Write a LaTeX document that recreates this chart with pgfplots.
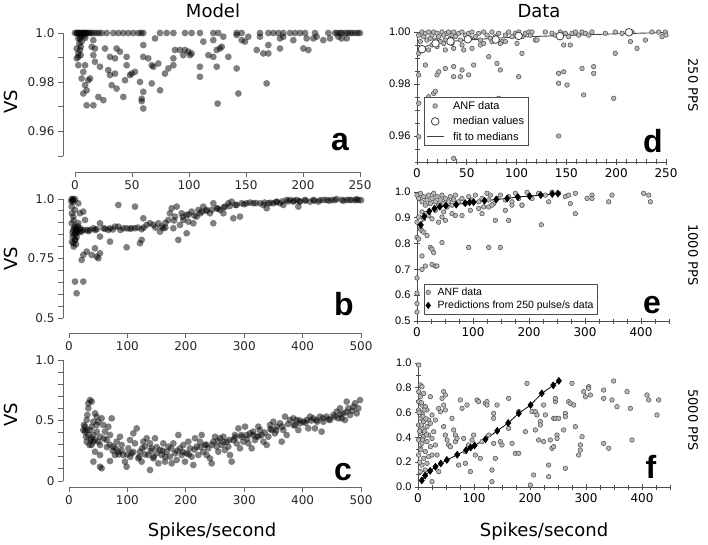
\documentclass[border=0pt]{standalone}
\usepackage{fontspec}
\setmainfont{DejaVu Sans}
\newfontfamily\arial{Liberation Sans}
\usepackage{pgfplots}
\pgfplotsset{compat=1.18}
\pgfplotsset{
 /pgf/number format/assume math mode=true,
 model/.style={scale only axis, clip=false, axis x line=bottom, axis y line=left,
  axis line style={-, draw=black!60, line width=0.9pt},
  tick style={draw=black!60, line width=0.9pt},
  tick align=outside, major tick length=5pt,
  tick label style={font=\fontsize{12}{14}\selectfont, text=black!85},
  anchor=south west},
 mdot/.style={only marks, mark=*, mark size=3.4pt, mark options={draw=black, draw opacity=0, fill=black, fill opacity=0.5}},
 dataax/.style={scale only axis, clip=false, axis x line=bottom, axis y line=left,
  axis line style={-, draw=black!70, line width=0.8pt},
  tick style={draw=black!70, line width=0.8pt},
  tick align=center, major tick length=6pt, minor tick length=5pt,
  yticklabel style={font=\arial\fontsize{11}{13}\selectfont},
  xticklabel style={font=\fontsize{12}{14}\selectfont},
  anchor=south west},
 anf/.style={only marks, mark=*, mark size=2.3pt, mark options={fill=black!28, draw=black!70, line width=0.5pt}},
}
\begin{document}
\begin{tikzpicture}[x=1pt,y=1pt]
\useasboundingbox (0,0) rectangle (708,544);
% ---------- panel a ----------
\begin{axis}[model, at={(75pt,388pt)}, width=285pt, height=123pt,
 xmin=0, xmax=250, ymin=0.95, ymax=1.0,
 axis x line shift=16pt, axis y line shift=12pt,
 xtick={0,50,100,150,200,250},
 ytick={0.95,0.96,0.97,0.98,0.99,1.0}, yticklabels={,0.96,,0.98,,1.0}]
\addplot[mdot] coordinates {(0,1)(1.5,1)(2.9,1)(4.4,1)(5.8,1)(7.3,1)(8.8,1)(10.2,1)(11.7,1)(13.2,1)(14.6,1)(16.5,1)(19,1)(21,1)(23.4,1)(27.8,1)(33.6,1)(38,1)(42.4,1)(46.8,1)(51.2,1)(55.6,1)(58,1)(59.9,1)(74.6,1)(80.4,1)(86.3,1)(96.5,1)(102.3,1)(109.6,1)(121.3,1)(125.7,1)(141.8,1)(146.2,1)(162.3,1)(169.6,1)(174,1)(178.4,1)(182.7,1)(188.6,1)(193,1)(197.4,1)(201.8,1)(210.5,1)(222.2,1)(228.1,1)(230,1)(232.5,1)(234,1)(236.8,1)(239,1)(241.2,1)(243,1)(245.6,1)(248,1)(250,1)
(2,1)(4,1)(6,1)(8,1)(10,1)(6,0.9993)(8,0.9988)(9,0.998)(5,0.9985)
(4.4,0.9978)(5.8,0.9965)(1.5,0.9937)(4.4,0.9931)(2.9,0.9903)(2.9,0.9869)(8.8,0.9869)(7.3,0.9842)(5.8,0.9815)(13.2,0.9815)(11.7,0.9808)(8.8,0.9788)(10.2,0.9767)(7.3,0.9754)(10.2,0.9706)(16.1,0.9706)(20.5,0.9740)(24.9,0.9727)(16.1,0.9971)(14.6,0.9944)(17.5,0.9937)(16.1,0.9910)(17.5,0.9883)(21.9,0.9863)(26.3,0.9937)(30.7,0.9903)(35.1,0.9897)(36.5,0.9937)(39.5,0.9924)(45.3,0.9903)(45.3,0.9869)(29.2,0.9849)(30.7,0.9829)(35.1,0.9835)(32.2,0.9788)(36.5,0.9774)(43.9,0.9808)(48.2,0.9829)(49.7,0.9835)(52.6,0.9842)(42.4,0.9740)(58.5,0.9733)(58.5,0.9723)(59.9,0.9693)(59.9,0.9761)(57.0,0.9801)(59.9,0.9951)(59.9,0.9903)(64.3,0.9897)(70.2,0.9978)(67.3,0.9869)(68.7,0.9863)(73.1,0.9876)(67.3,0.9795)(74.6,0.9767)(78.9,0.9835)(81.9,0.9856)(86.3,0.9869)(86.3,0.9897)(87.7,0.9931)(92.1,0.9931)(96.5,0.9931)(99.4,0.9924)(102.3,0.9917)(95.0,0.9910)(100.9,0.9910)(112.6,0.9965)(121.3,0.9971)(130.1,0.9985)(117.0,0.9910)(121.3,0.9903)(124.3,0.9931)(127.2,0.9937)(128.7,0.9944)(134.5,0.9903)(109.6,0.9863)(109.6,0.9822)(124.3,0.9863)(141.8,0.9856)(143.3,0.9754)(125.1,0.9713)(146.2,0.9971)(149.1,0.9965)(152.0,0.9985)(141.8,0.9992)(159.4,0.9931)(162.3,0.9985)(165.2,0.9917)(169.6,0.9951)(169.6,0.9917)(168.1,0.9795)(179.8,0.9978)(179.8,0.9937)(182.7,0.9985)(191.5,0.9971)(200.3,0.9937)(204.7,0.9931)(203.2,0.9978)(209.1,0.9978)(212.0,0.9985)(217.8,0.9971)(223.7,0.9978)(231.0,0.9985)(233.9,0.9978)(238.3,0.9978)
(2.9,0.9978)(3.8,0.9958)(5,0.9944)(2.9,0.9917)(5,0.9910)(1.5,0.9897)};
\end{axis}
% ---------- panel b ----------
\begin{axis}[model, at={(69pt,226pt)}, width=292pt, height=119pt,
 xmin=0, xmax=500, ymin=0.5, ymax=1.0,
 axis x line shift=15pt, axis y line shift=6pt,
 xtick={0,100,200,300,400,500},
 ytick={0.5,0.55,0.6,0.65,0.7,0.75,0.8,0.85,0.9,0.95,1.0}, yticklabels={0.5,,,,,0.75,,,,,1.0}]
\addplot[mdot] coordinates {(4.6,1.0)(7.4,1.0)(10.3,0.999)(7.4,0.989)(4.6,0.968)(10.3,0.954)(7.4,0.926)(4.6,0.898)(10.3,0.884)(7.4,0.870)(13.1,0.863)(6.3,0.842)(10.3,0.828)(7.4,0.814)(16.0,0.898)(18.8,0.877)(13.1,0.856)(21.7,0.863)(24.5,0.870)(24.5,0.947)(27.4,0.912)(16.0,0.982)(18.8,0.940)(24.5,0.765)(21.7,0.744)(30.3,0.779)(38.8,0.765)(44.5,0.793)(47.4,0.758)(50.2,0.751)(53.1,0.772)(10.3,0.653)(24.5,0.653)(13.1,0.604)
(4,0.99)(6,0.995)(5,0.94)(8,0.91)(9,0.88)(11,0.86)(12,0.875)(14,0.87)(6,0.86)(9,0.85)(11,0.83)(5,0.82)(13,0.84)(15,0.885)(17,0.86)(20,0.87)(8,0.8)(12,0.81)
(30.3,0.870)(36.0,0.870)(41.7,0.877)(47.4,0.873)(53.1,0.898)(58.8,0.877)(67.4,0.870)(70.2,0.877)(78.8,0.884)(84.5,0.884)(93.0,0.877)(98.7,0.877)(107.3,0.877)(113.0,0.877)(124.4,0.873)(133.0,0.891)(138.7,0.898)(144.4,0.891)(153.0,0.898)(158.7,0.884)(155.8,0.863)(161.5,0.877)
(33,0.865)(45,0.87)(62,0.875)(75,0.872)(88,0.87)(104,0.875)(118,0.88)(128,0.88)(148,0.88)(165,0.88)
(53.1,0.842)(70.2,0.821)(84.5,0.975)(98.7,0.797)(113.0,0.968)(121.6,0.814)(124.4,0.828)(127.3,0.919)
(170.1,0.912)(172.9,0.940)(175.8,0.961)(178.7,0.877)(181.5,0.926)(184.4,0.968)(187.2,0.828)(190.1,0.891)(192.9,0.940)(195.8,0.912)(201.5,0.933)(201.5,0.856)(204.3,0.905)(210.0,0.947)(212.9,0.898)(218.6,0.926)(221.5,0.954)(227.2,0.947)(230.0,0.968)(235.7,0.954)(241.4,0.940)(247.1,0.982)(247.1,0.898)(252.9,0.961)(258.6,0.954)(264.3,0.940)(267.1,0.968)(272.8,0.982)(278.5,0.989)(281.4,0.919)(287.1,0.975)(292.8,0.926)(295.7,0.982)(304.2,0.982)(309.9,0.985)(315.6,0.982)(327.1,0.982)(332.8,0.975)(338.5,0.961)(341.3,0.982)(349.9,0.982)(355.6,0.989)(361.3,0.982)(367.0,0.975)(372.7,0.996)(378.4,0.996)(384.1,0.989)(389.8,0.996)(392.7,0.968)(395.5,0.989)(404.1,0.996)(412.7,0.989)(418.4,0.996)(426.9,0.989)(435.5,0.996)(441.2,0.996)(449.8,0.996)(458.3,1.0)(466.9,0.996)(475.5,0.996)(484.0,0.996)(492.6,0.999)(495.4,0.996)
(165,0.9)(180,0.91)(195,0.925)(205,0.935)(215,0.93)(225,0.94)(235,0.95)(245,0.955)(255,0.96)(265,0.965)(275,0.97)(285,0.975)(300,0.978)(320,0.983)(335,0.985)(345,0.984)(355,0.987)(365,0.99)(375,0.99)(385,0.993)(395,0.991)(405,0.993)(420,0.993)(430,0.995)(445,0.993)(455,0.995)(470,0.993)(480,0.996)(490,0.995)(500,0.995)};
\end{axis}
% ---------- panel c ----------
\begin{axis}[model, at={(69pt,63pt)}, width=292pt, height=121pt,
 xmin=0, xmax=500, ymin=0, ymax=1.0,
 axis x line shift=6pt, axis y line shift=6pt,
 xtick={0,100,200,300,400,500},
 ytick={0,0.1,0.2,0.3,0.4,0.5,0.6,0.7,0.8,0.9,1.0}, yticklabels={0,,,,,0.5,,,,,1.0}]
\addplot[mdot] coordinates {(24.5,0.421)(25.7,0.463)(27.4,0.408)(29.1,0.366)(30.3,0.504)(31.4,0.545)(33.1,0.601)(33.1,0.642)(36.0,0.669)(38.8,0.656)(34.8,0.298)(37.1,0.339)(38.8,0.449)(41.7,0.380)(41.7,0.325)(44.5,0.559)(47.4,0.532)(47.4,0.408)(50.2,0.490)(53.1,0.366)(53.1,0.298)(55.9,0.518)(58.8,0.463)(61.6,0.408)(64.5,0.339)(67.4,0.449)(70.2,0.380)(73.1,0.518)(75.9,0.284)(78.8,0.215)(41.7,0.160)(53.1,0.118)(55.9,0.105)(70.2,0.165)(81.6,0.325)(84.5,0.242)(87.3,0.366)(90.2,0.298)(93.0,0.215)(95.9,0.160)(98.7,0.118)(101.6,0.270)(104.5,0.339)(107.3,0.229)(110.2,0.394)(113.0,0.311)(115.9,0.435)(118.7,0.187)(121.6,0.242)(124.4,0.160)(127.3,0.325)(130.1,0.284)(133.0,0.353)(135.8,0.215)(138.7,0.311)(138.7,0.091)(141.6,0.270)(144.4,0.187)(147.3,0.353)(150.1,0.229)(153.0,0.146)(155.8,0.256)(158.7,0.215)(161.5,0.311)(164.4,0.160)(167.2,0.242)(170.1,0.284)(172.9,0.201)(175.8,0.146)(178.7,0.311)(181.5,0.229)(184.4,0.174)(187.2,0.380)(190.1,0.270)(192.9,0.215)(195.8,0.298)(198.6,0.160)(201.5,0.229)(204.3,0.325)(207.2,0.270)(210.0,0.201)(212.9,0.132)(215.8,0.353)(218.6,0.284)(221.5,0.215)(224.3,0.325)(227.2,0.380)(230.0,0.242)(232.9,0.298)(235.7,0.215)(238.6,0.270)(241.4,0.187)(244.3,0.146)(247.1,0.325)(250.0,0.366)(252.9,0.284)(255.7,0.242)(258.6,0.353)(261.4,0.298)(264.3,0.366)(267.1,0.256)(270.0,0.325)(272.8,0.284)(275.7,0.215)(278.5,0.160)(281.4,0.339)(284.2,0.380)(287.1,0.311)(290.0,0.435)(292.8,0.270)(295.7,0.366)(298.5,0.325)(301.4,0.449)(304.2,0.380)(307.1,0.311)(309.9,0.394)(312.8,0.270)(315.6,0.408)(318.5,0.339)(321.3,0.366)(324.2,0.449)(327.1,0.421)(329.9,0.380)(332.8,0.325)(338.5,0.298)(341.3,0.366)(344.2,0.463)(347.0,0.421)(349.9,0.490)(352.7,0.394)(355.6,0.449)(361.3,0.477)(364.2,0.325)(367.0,0.421)(369.9,0.532)(372.7,0.380)(378.4,0.504)(384.1,0.518)(387.0,0.463)(389.8,0.504)(392.7,0.421)(395.5,0.477)(401.3,0.490)(407.0,0.504)(409.8,0.435)(412.7,0.532)(418.4,0.518)(421.2,0.435)(424.1,0.504)(429.8,0.532)(432.6,0.408)(435.5,0.490)(441.2,0.532)(446.9,0.504)(452.6,0.545)(458.3,0.573)(461.2,0.518)(464.0,0.601)(466.9,0.518)(469.7,0.559)(472.6,0.504)(475.5,0.656)(478.3,0.601)(481.2,0.545)(486.9,0.614)(489.7,0.642)(492.6,0.559)(495.4,0.601)(498.3,0.669)
(27.4,0.449)(30.3,0.421)(33.1,0.380)(36.0,0.421)(38.8,0.353)(41.7,0.490)(44.5,0.339)(47.4,0.463)(50.2,0.325)(30.3,0.325)(38.8,0.298)(44.5,0.242)(53.1,0.215)
(60,0.35)(65,0.28)(70,0.3)(75,0.25)(80,0.27)(85,0.22)(90,0.25)(100,0.22)(105,0.2)(110,0.24)(120,0.2)(125,0.27)(130,0.22)(140,0.25)(145,0.2)(150,0.28)(160,0.25)(165,0.2)(175,0.27)(185,0.25)(195,0.24)(205,0.22)(215,0.26)(225,0.28)(235,0.3)(245,0.3)(255,0.33)(265,0.32)(275,0.34)(285,0.36)(295,0.38)(305,0.35)(315,0.38)(325,0.37)(335,0.4)(345,0.43)(355,0.42)(365,0.45)(375,0.47)(385,0.46)(395,0.5)(405,0.48)(415,0.5)(425,0.49)(435,0.52)(445,0.51)(455,0.53)(465,0.55)(475,0.57)(485,0.58)};
\end{axis}
% ---------- panel d ----------
\begin{axis}[dataax, at={(417pt,382pt)}, width=249pt, height=130pt,
 xmin=0, xmax=250, ymin=0.95, ymax=1.0,
 xtick={0,50,100,150,200,250}, minor xtick={10,20,30,40,60,70,80,90,110,120,130,140,160,170,180,190,210,220,230,240},
 ytick={0.96,0.98,1.0}, yticklabels={0.96,0.98,1.00},
 minor ytick={0.95,0.955,0.965,0.97,0.975,0.985,0.99,0.995},
 legend style={at={(0.028,0.5)}, anchor=north west, draw=black!70, fill=white, font=\arial\fontsize{11}{13}\selectfont, inner sep=2pt, row sep=2pt, cells={anchor=west}, /tikz/every odd column/.append style={column sep=7pt}}]
\addplot[anf, forget plot] coordinates {(1.7,0.9988)(3.3,0.9963)(5.0,1.0)(6.7,0.9982)(8.4,0.9995)(10.0,0.9969)(11.7,1.0)(13.4,0.9976)(15.1,0.9988)(16.7,1.0)(18.4,0.9969)(20.1,0.9995)(21.8,0.9982)(23.4,0.9963)(25.1,1.0)(26.8,0.9988)(28.4,0.9969)(30.1,0.9995)(31.8,1.0)(33.5,0.9976)(35.1,0.9988)(36.8,1.0)(38.5,0.9982)(41.8,0.9995)(43.5,0.9969)(45.2,1.0)(48.5,0.9988)(51.9,0.9995)(53.5,0.9976)(55.2,1.0)(58.6,0.9982)(61.9,0.9995)(63.6,0.9969)(66.9,1.0)(70.3,0.9988)(73.6,0.9976)(75.3,1.0)(78.6,0.9982)(82.0,0.9995)(85.3,0.9963)(88.7,0.9988)(92.0,1.0)(95.4,0.9982)(98.7,0.9995)(100.4,0.9956)(102.1,1.0)(105.4,0.9982)(108.8,0.9995)(112.1,1.0)(113.8,0.9988)(118.8,0.9969)(115.5,1.0)(128.8,1.0)(135.5,0.9995)(138.9,0.9988)(143.9,1.0)(148.9,0.9995)(152.3,0.9982)(155.6,0.9995)(159.0,1.0)(162.3,0.9988)(165.7,1.0)(169.0,0.9995)(172.4,0.9988)(175.7,1.0)(189.1,0.9995)(199.1,1.0)(205.8,0.9995)(215.9,1.0)(235.9,1.0)(242.6,1.0)(249.3,1.0)(250,0.9988)
(1.7,0.9918)(6.7,0.9937)(11.7,0.9931)(15.1,0.9950)(20.1,0.9944)(26.8,0.9956)(28.4,0.9931)(35.1,0.9956)(36.8,0.9937)(45.2,0.9950)(46.9,0.9931)(55.2,0.9937)(63.6,0.9950)(66.9,0.9956)(75.3,0.9963)(83.7,0.9956)(88.7,0.9963)(105.4,0.9918)(120.5,0.9969)(147.3,0.9950)(153.9,0.9950)(199.1,0.9918)(214.2,0.9963)(220.9,0.9937)(229.3,0.9969)(246.0,0.9982)
(1.7,0.9835)(8.4,0.9873)(20.1,0.9835)(21.8,0.9847)(28.4,0.9860)(36.8,0.9867)(36.8,0.9828)(43.5,0.9828)(45.2,0.9854)(51.9,0.9835)(56.9,0.9873)(72.0,0.9905)(80.3,0.9879)(83.7,0.9854)(102.1,0.9828)(142.2,0.9841)(147.3,0.9847)(142.2,0.9803)(150.6,0.9796)(165.7,0.9860)(167.3,0.9758)(177.4,0.9867)(177.4,0.9841)(197.5,0.9745)(11.7,0.9751)(16.7,0.9764)(18.4,0.9772)(28.4,0.9732)(41.8,0.9719)(82.0,0.9745)(90.4,0.9738)(1.7,0.9726)(98.7,0.9719)(142.2,0.9600)(1.7,0.9597)(36.8,0.9514)};
\addplot[black!75, line width=0.9pt, forget plot] coordinates {(1.7,0.9918)(5,0.9935)(10,0.9946)(18,0.9956)(30,0.9963)(50,0.9969)(79,0.9976)(100,0.9980)(142,0.9986)(200,0.9993)(250,0.9998)};
\addplot[only marks, mark=*, mark size=3.8pt, mark options={fill=white, draw=black!75, line width=0.8pt}, forget plot] coordinates {(5,0.9934)(18.6,0.9956)(33.6,0.9964)(51,0.9972)(79,0.9971)(102,0.9985)(143.5,0.9984)(212.7,0.9999)};
\addlegendimage{anf}
\addlegendentry{ANF data}
\addlegendimage{only marks, mark=*, mark size=3.8pt, mark options={fill=white, draw=black!75, line width=0.8pt}}
\addlegendentry{median values}
\addlegendimage{black!75, line width=0.9pt}
\addlegendentry{fit to medians}
\end{axis}
% ---------- panel e ----------
\begin{axis}[dataax, at={(417pt,223pt)}, width=252pt, height=129pt,
 xmin=0, xmax=450, ymin=0.5, ymax=1.0,
 xtick={0,100,200,300,400}, minor xtick={25,50,75,125,150,175,225,250,275,325,350,375,425,450},
 ytick={0.5,0.6,0.7,0.8,0.9,1.0}, yticklabels={0.5,0.6,0.7,0.8,0.9,1.0},
 legend style={at={(0.026,0.29)}, anchor=north west, draw=black!70, fill=white, font=\arial\fontsize{10.5}{12}\selectfont, inner sep=2pt, row sep=0pt, cells={anchor=west}, /tikz/every odd column/.append style={column sep=5pt}}]
\addplot[anf, forget plot] coordinates {(0,0.988)(3.0,0.975)(6.0,0.995)(8.9,0.962)(11.9,0.982)(14.9,0.949)(17.9,0.969)(20.8,0.988)(23.8,0.955)(26.8,0.975)(29.8,0.995)(32.7,0.962)(35.7,0.982)(38.7,0.949)(41.7,0.969)(44.6,0.988)(47.6,0.955)(50.6,0.975)(53.6,0.942)(56.5,0.962)(59.5,0.982)(62.5,0.949)(65.5,0.969)(68.5,0.988)(74.4,0.962)(80.4,0.975)(86.3,0.955)(92.3,0.982)(98.2,0.969)(104.2,0.988)(110.1,0.962)(116.1,0.975)(119.0,0.942)(125.0,0.995)(128.0,0.969)(131.0,0.988)(136.9,0.955)(142.9,0.975)(148.8,0.988)(157.7,0.969)(163.7,0.982)(169.6,0.962)(175.6,0.995)(181.5,0.975)(187.5,0.949)(196.4,0.999)(205.4,0.975)(217.3,0.995)(229.2,0.988)(235.1,0.962)(241.1,0.999)(253.0,0.995)(264.9,0.982)(270.8,0.988)(282.7,0.995)(303.6,0.975)(312.5,0.988)(312.5,0.975)(342.3,0.962)(348.2,0.988)(404.8,0.995)(413.7,0.988)(416.7,0.962)
(0,0.883)(3.0,0.903)(8.9,0.923)(11.9,0.896)(14.9,0.916)(20.8,0.909)(26.8,0.896)(32.7,0.929)(38.7,0.883)(44.6,0.903)(47.6,0.923)(50.6,0.890)(62.5,0.916)(68.5,0.909)(80.4,0.909)(95.2,0.929)(110.1,0.936)(116.1,0.916)(128.0,0.942)(133.9,0.949)(139.9,0.890)(157.7,0.929)(163.7,0.890)(169.6,0.949)(187.5,0.949)(222,0.873)(273.8,0.955)(282.7,0.916)
(0,0.824)(3.0,0.818)(6.0,0.857)(8.9,0.850)(11.9,0.844)(17.9,0.831)(23.8,0.785)(26.8,0.778)(29.8,0.765)(44.6,0.804)(8.9,0.752)(14.9,0.713)(8.9,0.700)(26.8,0.719)(32.7,0.713)(35.7,0.713)(0,0.667)(0,0.608)(0,0.568)(0,0.535)(92.3,0.785)(128.0,0.785)(148.8,0.785)};
\addplot[black, line width=0.8pt, mark=diamond*, mark size=3.3pt, forget plot] coordinates {(6.8,0.872)(12.8,0.905)(21.7,0.925)(31.2,0.936)(40.8,0.943)(51.5,0.947)(70,0.951)(86,0.957)(94,0.960)(101,0.961)(120.5,0.966)(141.5,0.971)(161,0.975)(180,0.981)(201,0.984)(221,0.988)(241.5,0.992)(251.5,0.994)};
\addlegendimage{anf}
\addlegendentry{ANF data}
\addlegendimage{only marks, black, mark=diamond*, mark size=3.3pt}
\addlegendentry{Predictions from 250 pulse/s data}
\end{axis}
% ---------- panel f ----------
\begin{axis}[dataax, at={(418pt,57pt)}, width=252pt, height=124pt,
 xmin=0, xmax=450, ymin=0, ymax=1.0,
 xtick={0,100,200,300,400}, minor xtick={25,50,75,125,150,175,225,250,275,325,350,375,425,450},
 ytick={0,0.2,0.4,0.6,0.8,1.0}, yticklabels={0.0,0.2,0.4,0.6,0.8,1.0},
 minor ytick={0.1,0.3,0.5,0.7,0.9}]
\addplot[anf] coordinates {(1.2,0.984)(4.2,0.823)(7.1,0.809)(1.2,0.769)(4.2,0.728)(10.1,0.755)(1.2,0.688)(7.1,0.661)(13.1,0.648)(1.2,0.621)(7.1,0.594)(16.1,0.621)(4.2,0.554)(10.1,0.527)(19.0,0.540)(1.2,0.500)(7.1,0.473)(16.1,0.487)(22.0,0.513)(4.2,0.433)(10.1,0.406)(19.0,0.419)(1.2,0.379)(7.1,0.352)(16.1,0.366)(4.2,0.312)(13.1,0.285)(22.0,0.325)(1.2,0.258)(10.1,0.231)(19.0,0.245)(7.1,0.177)(16.1,0.191)(4.2,0.124)(13.1,0.137)(25.0,0.258)(25.0,0.392)(25.0,0.581)(22.0,0.728)(31.0,0.540)(28.0,0.446)(31.0,0.339)
(3,0.45)(6,0.5)(9,0.57)(2,0.6)(12,0.45)(5,0.3)(14,0.55)(8,0.38)(3,0.2)(11,0.62)(6,0.68)(15,0.42)
(33.9,0.258)(36.9,0.124)(25.0,0.043)(42.9,0.715)(45.8,0.769)(48.8,0.742)(45.8,0.661)(48.8,0.621)(39.9,0.608)(36.9,0.634)(45.8,0.487)(48.8,0.419)(51.8,0.379)(54.8,0.339)(57.7,0.325)(60.7,0.554)(63.7,0.460)(66.7,0.419)(66.7,0.366)(69.6,0.392)(72.6,0.177)(75.6,0.702)(78.6,0.634)(81.5,0.392)(84.5,0.285)(84.5,0.191)(87.5,0.661)(90.5,0.339)(93.5,0.124)(96.4,0.379)(99.4,0.419)(102.4,0.258)(105.4,0.702)(108.3,0.688)(111.3,0.231)(114.3,0.366)(120.2,0.675)(123.2,0.688)(123.2,0.661)(126.2,0.419)(132.1,0.043)(132.1,0.137)(135.1,0.594)(135.1,0.554)(135.1,0.352)(138.1,0.231)(141.1,0.661)(147.0,0.366)(150.0,0.339)(161.9,0.715)(161.9,0.473)(167.9,0.352)(173.8,0.272)(179.8,0.608)(179.8,0.272)(191.7,0.446)(194.6,0.836)(200.6,0.016)(203.6,0.608)(206.5,0.097)(209.5,0.608)(209.5,0.460)(212.5,0.581)(215.5,0.379)(218.5,0.527)(218.5,0.500)(224.4,0.661)(224.4,0.366)(227.4,0.581)(233.3,0.177)(233.3,0.083)(236.3,0.379)(239.3,0.312)(242.3,0.325)(242.3,0.554)(245.2,0.688)(245.2,0.715)(245.2,0.554)(248.2,0.419)(248.2,0.392)(251.2,0.554)(260.1,0.460)(263.1,0.151)(263.1,0.594)(263.1,0.567)(269.0,0.688)(272.0,0.675)(275.0,0.836)(278.0,0.661)(281.0,0.487)(286.9,0.258)(289.9,0.339)(289.9,0.298)(292.9,0.406)(295.8,0.769)(298.8,0.728)(304.8,0.809)(304.8,0.796)(307.7,0.742)(331.5,0.782)(331.5,0.715)(331.5,0.352)(340.5,0.312)(346.4,0.702)(349.4,0.855)(355.4,0.648)(373.2,0.769)(379.2,0.634)(382.1,0.379)(408.9,0.742)(411.9,0.702)(426.8,0.581)(429.8,0.702)};
\addplot[black, line width=0.8pt, mark=diamond*, mark size=3.3pt] coordinates {(6.8,0.053)(12.8,0.093)(21.7,0.130)(31.2,0.163)(40.8,0.19)(51.5,0.218)(70,0.26)(86,0.298)(94,0.318)(101,0.335)(120.5,0.385)(141.5,0.453)(161,0.516)(180,0.594)(201,0.661)(221,0.755)(241.5,0.82)(251.5,0.856)};
\end{axis}
% ---------- texts ----------
\node[anchor=base, font=\fontsize{18}{20}\selectfont] at (213,526) {Model};
\node[anchor=base, font=\fontsize{18}{20}\selectfont] at (539,526) {Data};
\foreach \yy in {442,285,129} {\node[rotate=90, font=\fontsize{18}{20}\selectfont] at (11,\yy) {VS};}
\node[anchor=base, font=\fontsize{18}{20}\selectfont] at (212,8) {Spikes/second};
\node[anchor=base, font=\fontsize{18}{20}\selectfont] at (544,8) {Spikes/second};
\node[font=\arial\bfseries\fontsize{32}{34}\selectfont] at (340,402) {a};
\node[font=\arial\bfseries\fontsize{32}{34}\selectfont] at (344,240) {b};
\node[font=\arial\bfseries\fontsize{32}{34}\selectfont] at (343,72) {c};
\node[font=\arial\bfseries\fontsize{32}{34}\selectfont] at (653,403) {d};
\node[font=\arial\bfseries\fontsize{32}{34}\selectfont] at (652,239) {e};
\node[font=\arial\bfseries\fontsize{32}{34}\selectfont] at (651,77) {f};
\node[rotate=-90, font=\fontsize{13}{15}\selectfont] at (693,459) {250 PPS};
\node[rotate=-90, font=\fontsize{13}{15}\selectfont] at (693,289) {1000 PPS};
\node[rotate=-90, font=\fontsize{13}{15}\selectfont] at (693,124) {5000 PPS};
\end{tikzpicture}
\end{document}
